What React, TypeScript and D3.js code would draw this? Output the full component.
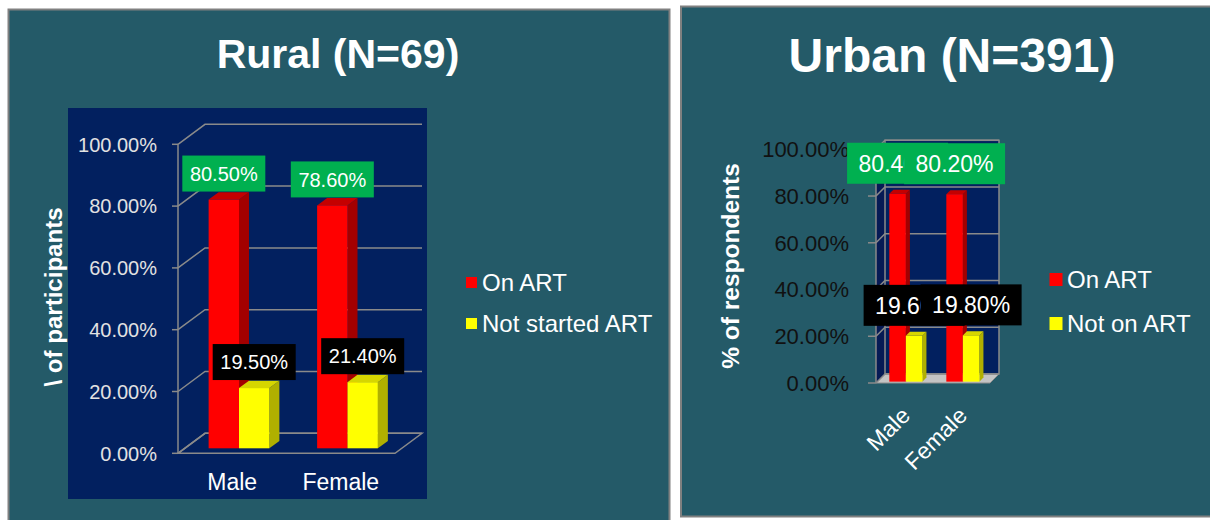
import React from "react";
import * as d3 from "d3";

// data
const categories = ["Male", "Female"];
const ruralOnArt = [80.5, 78.6];
const ruralNotStarted = [19.5, 21.4];
const urbanOnArt = [80.4, 80.2];
const urbanNotOnArt = [19.6, 19.8];
const ruralSeriesNames = ["On ART", "Not started ART"];
const urbanSeriesNames = ["On ART", "Not on ART"];
const yTicks = [0, 20, 40, 60, 80, 100];

const FONT = "'Liberation Sans', Arial, sans-serif";
const TEAL = "#245a68";
const NAVY = "#02205f";
const pct = (v: number) => d3.format(".2f")(v) + "%";

const RED = { front: "#ff0000", side: "#a30000", top: "#c40000", label: "#00b050" };
const YELLOW = { front: "#ffff00", side: "#b0b000", top: "#d6d600", label: "#000000" };

type Layout = {
  x0: number;
  x1: number;
  y0: number;
  y100: number;
  dx: number;
  dy: number;
  barOffset: number;
  barDepth: number;
  groupFrac: number;
  tickLen: number;
  tickLabelX: number;
  tickFont: number;
  tickColor: string;
  walls: boolean;
  boxW: number;
  boxH: number;
  boxGap: number;
  boxFont: number;
  rotateX: boolean;
  xLabelY: number;
  xLabelFont: number;
};

type Series = { name: string; values: number[]; colors: typeof RED };

const ruralLayout: Layout = {
  x0: 178, x1: 395, y0: 453.3, y100: 144.3, dx: 27, dy: -20,
  barOffset: 0.25, barDepth: 0.37, groupFrac: 0.56,
  tickLen: 6, tickLabelX: 157, tickFont: 20, tickColor: "#e2e2e2", walls: false,
  boxW: 83, boxH: 36, boxGap: 8, boxFont: 20,
  rotateX: false, xLabelY: 490, xLabelFont: 23,
};

const urbanLayout: Layout = {
  x0: 876, x1: 990, y0: 383, y100: 149.3, dx: 9, dy: -9,
  barOffset: 0.15, barDepth: 0.45, groupFrac: 0.58,
  tickLen: 8, tickLabelX: 849, tickFont: 22, tickColor: "#111111", walls: true,
  boxW: 101, boxH: 41, boxGap: 10, boxFont: 23,
  rotateX: true, xLabelY: 417, xLabelFont: 23,
};

function Bars3D({ layout, series }: { layout: Layout; series: Series[] }) {
  const L = layout;
  const y = d3.scaleLinear().domain([0, 100]).range([L.y0, L.y100]);
  const x = d3.scaleBand().domain(categories).range([L.x0, L.x1]).padding(0);
  const groupW = x.bandwidth() * L.groupFrac;
  const x1 = d3
    .scaleBand()
    .domain(series.map((s) => s.name))
    .range([0, groupW]);
  const sx = L.dx * L.barOffset;
  const sy = L.dy * L.barOffset;
  const bdx = L.dx * L.barDepth;
  const bdy = L.dy * L.barDepth;
  const grid = "#8a8a8a";
  const pts = (p: number[][]) => p.map((d) => d.join(",")).join(" ");

  const bars = categories.flatMap((c, i) =>
    series.map((s) => {
      const w = x1.bandwidth();
      const left = (x(c) as number) + (x.bandwidth() - groupW) / 2 + (x1(s.name) as number) + sx;
      const bottom = y(0) + sy;
      const top = y(s.values[i]) + sy;
      return { key: c + s.name, left, w, top, bottom, s, v: s.values[i] };
    })
  );

  return (
    <g>
      {L.walls && (
        <g>
          <polygon
            points={pts([[L.x0, L.y0], [L.x0, L.y100], [L.x0 + L.dx, L.y100 + L.dy], [L.x0 + L.dx, L.y0 + L.dy]])}
            fill="#061a55"
          />
          <rect
            x={L.x0 + L.dx}
            y={L.y100 + L.dy}
            width={L.x1 - L.x0}
            height={L.y0 - L.y100}
            fill={NAVY}
            stroke={grid}
            strokeWidth={1.5}
          />
          <polygon
            points={pts([[L.x0, L.y0], [L.x1, L.y0], [L.x1 + L.dx, L.y0 + L.dy], [L.x0 + L.dx, L.y0 + L.dy]])}
            fill="#c4c4c4"
            stroke="#8f8f8f"
            strokeWidth={1}
          />
        </g>
      )}
      {yTicks.map((t) => (
        <g key={t}>
          <line x1={L.x0 - L.tickLen} x2={L.x0} y1={y(t)} y2={y(t)} stroke={grid} strokeWidth={1.5} />
          <polyline
            points={pts([[L.x0, y(t)], [L.x0 + L.dx, y(t) + L.dy], [L.x1 + L.dx, y(t) + L.dy]])}
            fill="none"
            stroke={grid}
            strokeWidth={1.5}
          />
          <text
            x={L.tickLabelX}
            y={y(t) + L.tickFont * 0.36}
            textAnchor="end"
            fontSize={L.tickFont}
            fill={L.tickColor}
          >
            {pct(t)}
          </text>
        </g>
      ))}
      {!L.walls && (
        <polygon
          points={pts([[L.x0, L.y0], [L.x1, L.y0], [L.x1 + L.dx, L.y0 + L.dy], [L.x0 + L.dx, L.y0 + L.dy]])}
          fill="none"
          stroke={grid}
          strokeWidth={1.5}
        />
      )}
      <line x1={L.x0} x2={L.x0} y1={L.y100} y2={L.y0} stroke={grid} strokeWidth={1.5} />
      {bars.map((b) => (
        <g key={b.key}>
          <polygon
            points={pts([
              [b.left + b.w, b.bottom],
              [b.left + b.w, b.top],
              [b.left + b.w + bdx, b.top + bdy],
              [b.left + b.w + bdx, b.bottom + bdy],
            ])}
            fill={b.s.colors.side}
          />
          <polygon
            points={pts([
              [b.left, b.top],
              [b.left + b.w, b.top],
              [b.left + b.w + bdx, b.top + bdy],
              [b.left + bdx, b.top + bdy],
            ])}
            fill={b.s.colors.top}
          />
          <rect x={b.left} y={b.top} width={b.w} height={b.bottom - b.top} fill={b.s.colors.front} />
        </g>
      ))}
      {series.map((s) =>
        bars
          .filter((b) => b.s === s)
          .map((b) => {
            const cx = b.left + b.w / 2;
            const by = b.top - L.boxGap - L.boxH;
            return (
              <g key={"lab" + b.key}>
                <rect x={cx - L.boxW / 2} y={by} width={L.boxW} height={L.boxH} fill={s.colors.label} />
                <text
                  x={cx}
                  y={by + L.boxH / 2 + L.boxFont * 0.36}
                  textAnchor="middle"
                  fontSize={L.boxFont}
                  fill="#ffffff"
                >
                  {pct(b.v)}
                </text>
              </g>
            );
          })
      )}
      {categories.map((c) => {
        const cx = (x(c) as number) + x.bandwidth() / 2;
        return L.rotateX ? (
          <text
            key={c}
            transform={`translate(${cx + 7},${L.xLabelY}) rotate(-45)`}
            textAnchor="end"
            fontSize={L.xLabelFont}
            fill="#ffffff"
          >
            {c}
          </text>
        ) : (
          <text key={c} x={cx} y={L.xLabelY} textAnchor="middle" fontSize={L.xLabelFont} fill="#ffffff">
            {c}
          </text>
        );
      })}
    </g>
  );
}

function Legend({ names, colors, x, ys, size, font, textX, baselines }: any) {
  return (
    <g>
      {names.map((n: string, i: number) => (
        <g key={n}>
          <rect x={x} y={ys[i]} width={size} height={size} fill={colors[i].front} />
          <text x={textX} y={baselines[i]} fontSize={font} fill="#ffffff">
            {n}
          </text>
        </g>
      ))}
    </g>
  );
}

export default function App() {
  const ruralSeries: Series[] = [
    { name: ruralSeriesNames[0], values: ruralOnArt, colors: RED },
    { name: ruralSeriesNames[1], values: ruralNotStarted, colors: YELLOW },
  ];
  const urbanSeries: Series[] = [
    { name: urbanSeriesNames[0], values: urbanOnArt, colors: RED },
    { name: urbanSeriesNames[1], values: urbanNotOnArt, colors: YELLOW },
  ];

  return (
    <svg
      width={1210}
      height={520}
      style={{ position: "absolute", left: 0, top: 0, background: "#ffffff" }}
      fontFamily={FONT}
    >
      {/* rural panel */}
      <rect x={8.5} y={9.5} width={661} height={520} fill={TEAL} stroke="#808080" strokeWidth={2} />
      <text x={338} y={68} textAnchor="middle" fontSize={41} fontWeight="bold" fill="#ffffff">
        Rural (N=69)
      </text>
      <rect x={68} y={108} width={359} height={391} fill={NAVY} />
      <Bars3D layout={ruralLayout} series={ruralSeries} />
      <text
        transform="translate(62,297) rotate(-90)"
        textAnchor="middle"
        fontSize={23}
        fontWeight="bold"
        fill="#ffffff"
        textLength={179}
        lengthAdjust="spacingAndGlyphs"
      >
        \ of participants
      </text>
      <Legend
        names={ruralSeriesNames}
        colors={[RED, YELLOW]}
        x={466}
        ys={[277, 318]}
        size={11}
        font={24}
        textX={482}
        baselines={[291, 332]}
      />

      {/* urban panel */}
      <rect x={681} y={6.5} width={535} height={510} fill={TEAL} stroke="#808080" strokeWidth={2} />
      <text x={952} y={72} textAnchor="middle" fontSize={48} fontWeight="bold" fill="#ffffff">
        Urban (N=391)
      </text>
      <Bars3D layout={urbanLayout} series={urbanSeries} />
      <text
        transform="translate(739,266) rotate(-90)"
        textAnchor="middle"
        fontSize={24.5}
        fontWeight="bold"
        fill="#ffffff"
      >
        % of respondents
      </text>
      <Legend
        names={urbanSeriesNames}
        colors={[RED, YELLOW]}
        x={1049.5}
        ys={[273, 317]}
        size={13}
        font={24}
        textX={1067}
        baselines={[288, 332]}
      />
    </svg>
  );
}
